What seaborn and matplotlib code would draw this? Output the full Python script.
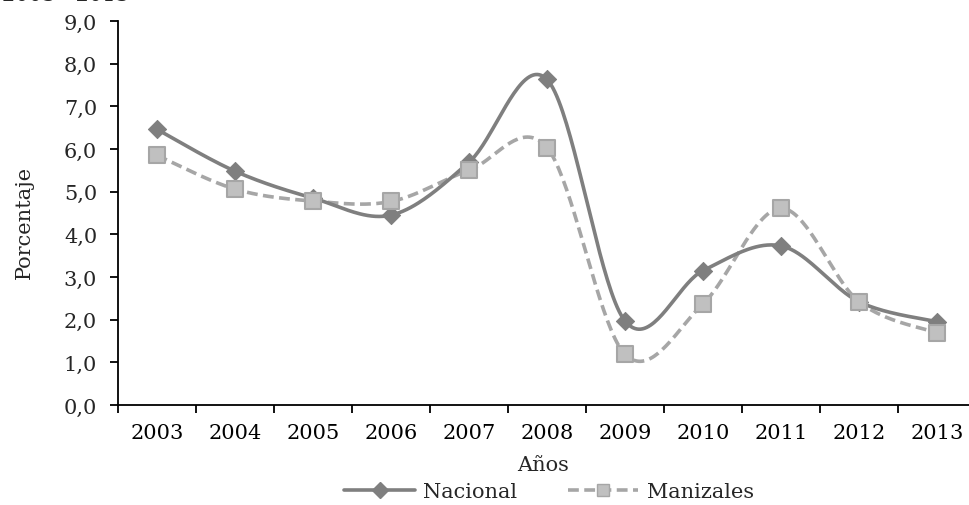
import numpy as np
import pandas as pd
import matplotlib
matplotlib.use("Agg")
import matplotlib.pyplot as plt
from matplotlib.lines import Line2D
import seaborn as sns

years = ["2003", "2004", "2005", "2006", "2007", "2008", "2009", "2010", "2011", "2012", "2013"]
nacional = [6.46, 5.48, 4.85, 4.45, 5.69, 7.63, 1.97, 3.15, 3.73, 2.42, 1.95]
manizales = [5.85, 5.06, 4.78, 4.77, 5.50, 6.03, 1.19, 2.37, 4.61, 2.42, 1.69]
yticks = [0, 1, 2, 3, 4, 5, 6, 7, 8, 9]

sns.set_theme(style="white")
plt.rcParams['font.family'] = ['DejaVu Serif']
FS = 15


def smooth(xs, ys, n=40):
    xs = np.asarray(xs, float); ys = np.asarray(ys, float)
    P = np.column_stack([xs, ys])
    Pp = np.vstack([P[0], P, P[-1]])
    out = []
    for i in range(len(P) - 1):
        p0, p1, p2, p3 = Pp[i], Pp[i + 1], Pp[i + 2], Pp[i + 3]
        c1 = p1 + (p2 - p0) / 6.0
        c2 = p2 - (p3 - p1) / 6.0
        t = np.linspace(0, 1, n, endpoint=(i == len(P) - 2))[:, None]
        seg = (1 - t) ** 3 * p1 + 3 * (1 - t) ** 2 * t * c1 + 3 * (1 - t) * t ** 2 * c2 + t ** 3 * p2
        out.append(seg)
    out = np.vstack(out)
    return out[:, 0], out[:, 1]


fig = plt.figure(figsize=(9.69, 5.06), dpi=100)
ax = fig.add_axes([118 / 969, 1 - 406 / 506, (976 - 118) / 969, (406 - 22) / 506])

x = np.arange(len(years))
c_nac = "#7f7f7f"
c_man_line = "#a6a6a6"
c_man_fill = "#c0c0c0"

sx, sy = smooth(x, nacional)
dfn = pd.DataFrame({"x": sx, "y": sy})
sns.lineplot(data=dfn, x="x", y="y", ax=ax, color=c_nac, lw=2.6, sort=False, estimator=None, zorder=3)
sx2, sy2 = smooth(x, manizales)
dfm = pd.DataFrame({"x": sx2, "y": sy2})
sns.lineplot(data=dfm, x="x", y="y", ax=ax, color=c_man_line, lw=2.6, sort=False, estimator=None,
             linestyle=(0, (3, 1.5)), zorder=2)

pts = pd.DataFrame({"x": x, "nac": nacional, "man": manizales})
sns.scatterplot(data=pts, x="x", y="nac", ax=ax, marker="D", s=85, color=c_nac, edgecolor=c_nac, zorder=4)
sns.scatterplot(data=pts, x="x", y="man", ax=ax, marker="s", s=130, color=c_man_fill, edgecolor=c_man_line,
                linewidth=1.5, zorder=5)

ax.set_xlim(-0.5, len(years) - 0.5)
ax.set_ylim(0, 9)
ax.set_yticks(yticks)
ax.set_yticklabels([f"{v:.1f}".replace(".", ",") for v in yticks], fontsize=FS)
ax.set_xticks(x)
ax.set_xticklabels(years, fontsize=FS)
ax.set_xticks(np.arange(-0.5, len(years) + 0.5, 1), minor=True)
ax.tick_params(axis="x", which="major", length=0, pad=13, colors="black")
ax.tick_params(axis="x", which="minor", length=6, width=1.3, direction="out", color="black", bottom=True)
ax.tick_params(axis="y", which="major", length=6, width=1.3, direction="out", color="black", left=True, pad=9)
for s in ["top", "right"]:
    ax.spines[s].set_visible(False)
for s in ["left", "bottom"]:
    ax.spines[s].set_color("black")
    ax.spines[s].set_linewidth(1.3)
ax.set_xlabel("Años", fontsize=FS)
ax.xaxis.set_label_coords((543 - 118) / 858, -(456 - 406) / 384)
ax.set_ylabel("Porcentaje", fontsize=FS)
ax.yaxis.set_label_coords((34 - 118) / 858, (406 - 222) / 384)

handles = [
    Line2D([0], [0], color=c_nac, lw=2.6, marker="D", markersize=8, markerfacecolor=c_nac, markeredgecolor=c_nac),
    Line2D([0], [0], color=c_man_line, lw=2.6, linestyle=(0, (3, 1.5)), marker="s", markersize=9,
           markerfacecolor=c_man_fill, markeredgecolor=c_man_line),
]
fig.legend(handles, ["Nacional", "Manizales"], loc="center", bbox_to_anchor=(549 / 969, 1 - 493 / 506),
           ncol=2, frameon=False, fontsize=FS, handlelength=3.4, columnspacing=2.4, handletextpad=0.4,
           borderaxespad=0, borderpad=0)

fig.text(0.002, 1 - 5 / 506, "2003 - 2013", fontsize=FS, va="bottom", ha="left")

fig.savefig("out.png", dpi=100)
